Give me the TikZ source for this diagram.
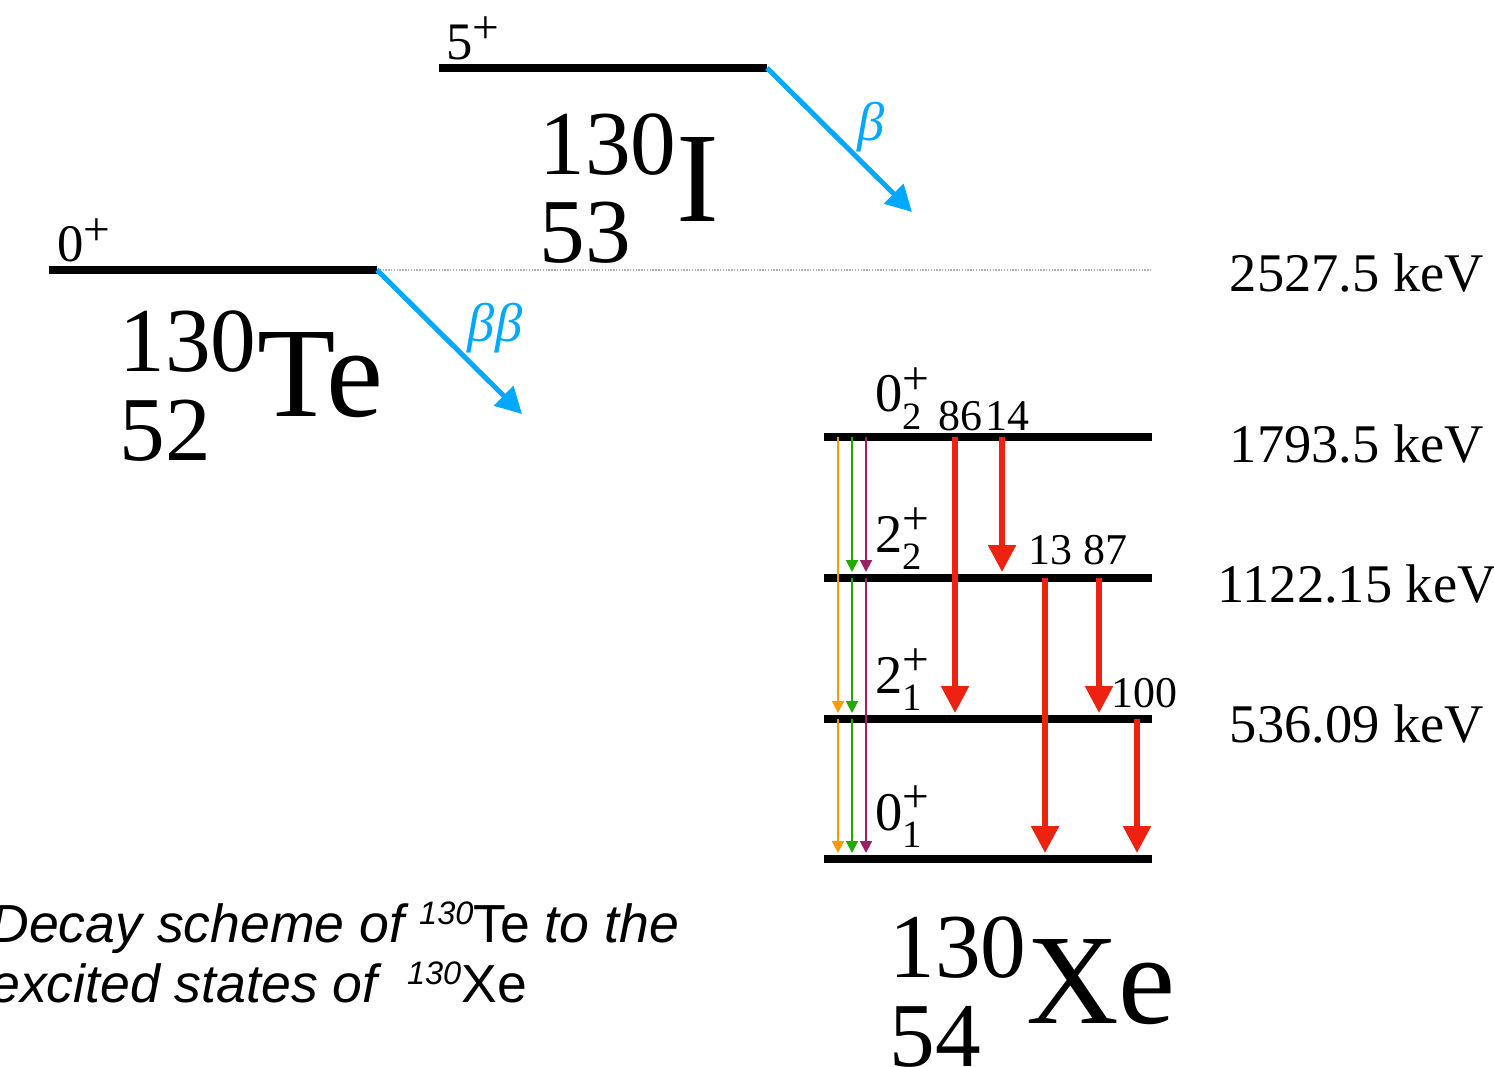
\documentclass[tikz,border=0pt]{standalone}
\usepackage{fontspec}
\usepackage{graphicx}
\setmainfont{Liberation Serif}
\newfontfamily\capfont{Liberation Sans}
\usetikzlibrary{arrows.meta}
\definecolor{xblue}{RGB}{0,168,255}
\definecolor{xred}{RGB}{238,34,17}
\definecolor{xorange}{RGB}{255,153,0}
\definecolor{xgreen}{RGB}{34,170,0}
\definecolor{xpurple}{RGB}{153,34,102}
\newcommand\fsz[1]{\fontsize{#1}{#1}\selectfont}
\newcommand\jpi[3]{#1\rlap{\raisebox{9.8pt}{\fsz{27}#2}}\raisebox{-10.2pt}{\fsz{22}#3}}
\newcommand\jpup[2]{#1\raisebox{9.5pt}{\fsz{27}#2}}
\tikzset{
  level/.style={line width=0.16cm},
  redarr/.style={draw=xred, line width=0.11cm, -{Triangle[length=0.54cm,width=0.54cm]}, shorten >=0.12cm},
  thinarr/.style={line width=0.04cm, -{Triangle[length=0.24cm,width=0.24cm]}, shorten >=0.12cm},
  bluearr/.style={draw=xblue, line width=0.1cm, -{Triangle[length=0.52cm,width=0.54cm]}},
  lab/.style={inner sep=0, anchor=base west},
  elab/.style={inner sep=0, anchor=base, font={\fsz{31}}},
  blab/.style={inner sep=0, anchor=base west, font={\fsz{25}}},
}
\begin{document}
\begin{tikzpicture}[x=0.02cm,y=-0.02cm]
\useasboundingbox (0,0) rectangle (1494,1067);
% levels
\coordinate (Ia) at (439,68);  \coordinate (Ib) at (767,68);
\coordinate (Ta) at (49,270);  \coordinate (Tb) at (377,270);
\coordinate (L4w) at (824,437); \coordinate (L4e) at (1152,437);
\coordinate (L3w) at (824,578); \coordinate (L3e) at (1152,578);
\coordinate (L2w) at (824,719); \coordinate (L2e) at (1152,719);
\coordinate (L1w) at (824,859); \coordinate (L1e) at (1152,859);
\coordinate (dotend) at (1152,270);
\draw[gray!60, line width=0.6pt, dash pattern=on 0.8pt off 0.8pt] (Tb) -- (dotend);
\draw[level] (Ia) -- (Ib);
\draw[level] (Ta) -- (Tb);
\draw[level] (L4w) -- (L4e);
\draw[level] (L3w) -- (L3e);
\draw[level] (L2w) -- (L2e);
\draw[level] (L1w) -- (L1e);
% beta arrows
\coordinate (Iend) at (912,212);
\coordinate (Tend) at (522,414);
\draw[bluearr] (Ib) -- (Iend);
\draw[bluearr] (Tb) -- (Tend);
\node[inner sep=0, text=xblue, font={\fsz{31}\itshape}] (b1) at (871,127) {β};
\node[inner sep=0, text=xblue, font={\fsz{31}\itshape}] (b2) at (495,328) {ββ};
% columns
\coordinate (cOr) at (838,0); \coordinate (cGr) at (852,0); \coordinate (cPu) at (866,0);
\coordinate (cR1) at (955,0); \coordinate (cR2) at (1002,0); \coordinate (cR3) at (1045,0);
\coordinate (cR4) at (1099,0); \coordinate (cR5) at (1137,0);
% thin arrows
\draw[thinarr, xorange] (cOr |- L4w) -- (cOr |- L2w);
\draw[thinarr, xorange] (cOr |- L2w) -- (cOr |- L1w);
\draw[thinarr, xgreen] (cGr |- L4w) -- (cGr |- L3w);
\draw[thinarr, xgreen] (cGr |- L3w) -- (cGr |- L2w);
\draw[thinarr, xgreen] (cGr |- L2w) -- (cGr |- L1w);
\draw[thinarr, xpurple] (cPu |- L4w) -- (cPu |- L3w);
\draw[thinarr, xpurple] (cPu |- L3w) -- (cPu |- L1w);
% red arrows
\draw[redarr] (cR1 |- L4w) -- (cR1 |- L2w);
\draw[redarr] (cR2 |- L4w) -- (cR2 |- L3w);
\draw[redarr] (cR3 |- L3w) -- (cR3 |- L1w);
\draw[redarr] (cR4 |- L3w) -- (cR4 |- L2w);
\draw[redarr] (cR5 |- L2w) -- (cR5 |- L1w);
% spin labels
\node[lab, font={\fsz{30}}] (sI) at (446,60) {\jpup{5}{+}};
\node[lab, font={\fsz{30}}] (sT) at (57,262) {\jpup{0}{+}};
\node[lab, font={\fsz{31}}] (s4) at (875,412) {\jpi{0}{+}{2}};
\node[lab, font={\fsz{31}}] (s3) at (875,552) {\jpi{2}{+}{2}};
\node[lab, font={\fsz{31}}] (s2) at (875,693) {\jpi{2}{+}{1}};
\node[lab, font={\fsz{31}}] (s1) at (875,830) {\jpi{0}{+}{1}};
% branching ratios
\node[blab] (r86) at (938,430) {86};
\node[blab] (r14) at (985,430) {14};
\node[blab] (r13) at (1028,564) {13};
\node[blab] (r87) at (1083,564) {87};
\node[blab] (r100) at (1111,707) {100};
% energies
\node[elab] (e1) at (1357,292) {2527.5 keV};
\node[elab] (e2) at (1357,462) {1793.5 keV};
\node[elab] (e3) at (1357,602) {1122.15 keV};
\node[elab] (e4) at (1357,742) {536.09 keV};
% nuclides
\node[lab, font={\fsz{52}}] (Ia1) at (539,175) {130};
\node[lab, font={\fsz{52}}] (Iz1) at (539,263) {53};
\node[lab, font={\fsz{73}}] (Is1) at (676,222) {I};
\node[lab, font={\fsz{52}}] (Ta1) at (119,372) {130};
\node[lab, font={\fsz{52}}] (Tz1) at (119,460) {52};
\node[lab, font={\fsz{73}}] (Ts1) at (257,417) {Te};
\node[lab, font={\fsz{52}}] (Xa1) at (889,977) {130};
\node[lab, font={\fsz{52}}] (Xz1) at (889,1066) {54};
\node[lab, font={\fsz{73}}] (Xs1) at (1026,1023) {Xe};
% caption
\node[lab, font={\fsz{30.5}\capfont\itshape}] (cap1) at (-10,942)
  {Decay scheme of \raisebox{9.7pt}{\fsz{18.5}130}{\upshape Te} to the};
\node[lab, font={\fsz{30.5}\capfont\itshape}] (cap2) at (-10,1002)
  {excited states of\hspace{0.55em}\raisebox{9.7pt}{\fsz{18.5}130}{\upshape Xe}};
\end{tikzpicture}
\end{document}
